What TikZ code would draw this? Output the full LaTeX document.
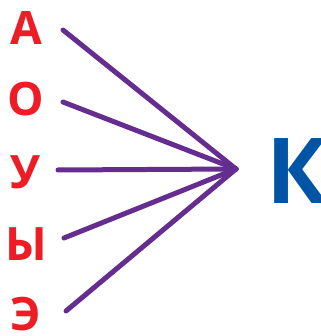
\documentclass[tikz,border=0pt]{standalone}
\usepackage{fontspec}
\setmainfont{Open Sans}
\definecolor{vred}{HTML}{EE1C25}
\definecolor{cpurple}{HTML}{662D91}
\definecolor{cblue}{HTML}{0054A6}
\begin{document}
\begin{tikzpicture}[x=1pt,y=-1pt,
  vowel/.style={text=vred,font=\fontsize{46}{46}\selectfont\bfseries,inner sep=0pt,anchor=base},
  cons/.style={text=cblue,font=\fontsize{91}{91}\selectfont\bfseries,inner sep=0pt,anchor=base west},
  link/.style={draw=cpurple,line width=5pt,line cap=round}]
\useasboundingbox (0,0) rectangle (320,336);
\node[vowel] (a) at (26,45) {А};
\node[vowel] (o) at (26,116) {О};
\node[vowel] (u) at (26,188) {У};
\node[vowel] (y) at (26,260) {Ы};
\node[vowel] (e) at (26,330) {Э};
\node[cons] (k) at (266,203) {К};
\coordinate (hub) at (236,169);
\coordinate (sa) at (63,30);
\coordinate (so) at (63,102);
\coordinate (su) at (58,170);
\coordinate (sy) at (64,238);
\coordinate (se) at (66,311);
\foreach \s in {sa,so,su,sy,se} \draw[link] (\s) -- (hub);
\end{tikzpicture}
\end{document}
